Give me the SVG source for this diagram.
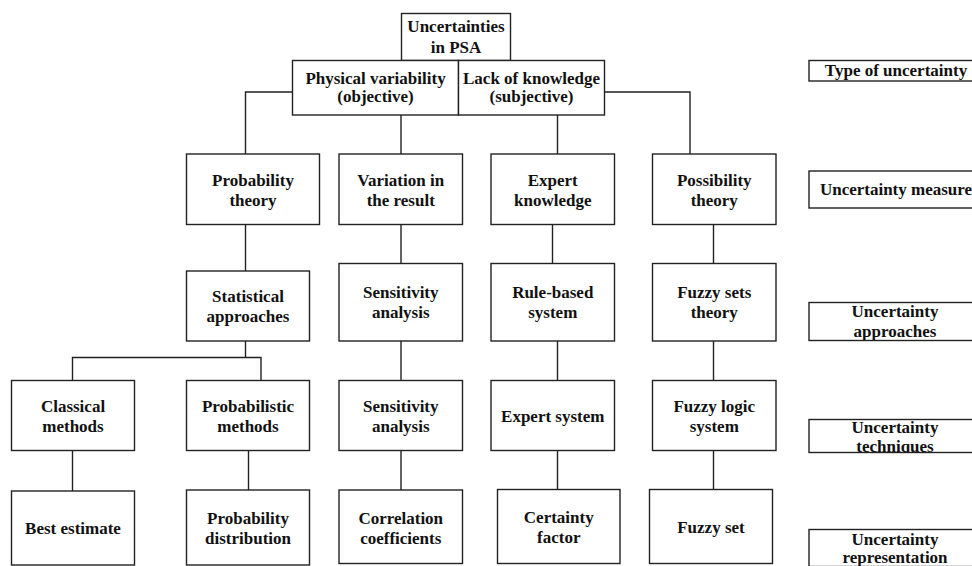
<svg xmlns="http://www.w3.org/2000/svg" width="972" height="566" viewBox="0 0 972 566">
  <style>
    .box { fill: #ffffff; stroke: #222222; stroke-width: 1.4; }
    .lbl { fill: none; stroke: #222222; stroke-width: 1.4; }
    .wire { fill: none; stroke: #222222; stroke-width: 1.4; }
    .t { font-weight: bold; font-size: 17px; fill: #111111; text-anchor: middle; }
  </style>
  <defs>
    <clipPath id="clip-measure"><rect x="809" y="171" width="174" height="37"/></clipPath>
    <clipPath id="clip-type"><rect x="809" y="60.5" width="174" height="20.5"/></clipPath>
    <clipPath id="clip-approaches"><rect x="809" y="302.5" width="174" height="38"/></clipPath>
    <clipPath id="clip-techniques"><rect x="809" y="419.5" width="174" height="33"/></clipPath>
    <clipPath id="clip-representation"><rect x="809" y="529.5" width="174" height="36.5"/></clipPath>
  </defs>
  <rect x="0" y="0" width="972" height="566" fill="#ffffff"/>

  <!-- connectors -->
  <g id="connectors">
    <path class="wire" d="M292.5 92 H245.5 V154"/>
    <path class="wire" d="M401 115 V154"/>
    <path class="wire" d="M557.5 115 V154"/>
    <path class="wire" d="M604.5 92 H690 V154"/>
    <path class="wire" d="M245.5 224.5 V271"/>
    <path class="wire" d="M401 224.5 V263.5"/>
    <path class="wire" d="M552.5 224.5 V263.5"/>
    <path class="wire" d="M713.5 224.5 V263.5"/>
    <path class="wire" d="M245.5 341 V357.5"/>
    <path class="wire" d="M72.5 380.5 V357.5 H261 V380.5"/>
    <path class="wire" d="M401 341 V380.5"/>
    <path class="wire" d="M557.5 341 V380.5"/>
    <path class="wire" d="M713.5 341 V380.5"/>
    <path class="wire" d="M72.5 450.5 V491"/>
    <path class="wire" d="M248.5 450.5 V490"/>
    <path class="wire" d="M401 450.5 V490"/>
    <path class="wire" d="M557.5 450.5 V489.5"/>
    <path class="wire" d="M713.5 450.5 V489.5"/>
  </g>

  <g font-family="'Liberation Serif', 'Times New Roman', Tinos, 'DejaVu Serif', serif">
  <!-- root and uncertainty types -->
  <g id="root">
    <rect class="box" x="401.5" y="13.5" width="109" height="47"/>
    <text class="t" x="456" y="31.7">Uncertainties</text>
    <text class="t" x="456" y="52.7">in PSA</text>
  </g>
  <g id="physical">
    <rect class="box" x="292.5" y="60.5" width="166" height="54.5"/>
    <text class="t" x="375.5" y="83.5">Physical variability</text>
    <text class="t" x="375.5" y="101.5">(objective)</text>
  </g>
  <g id="lack">
    <rect class="box" x="458.5" y="60.5" width="146" height="54.5"/>
    <text class="t" x="531.5" y="83.5">Lack of knowledge</text>
    <text class="t" x="531.5" y="101.5">(subjective)</text>
  </g>

  <!-- uncertainty measures -->
  <g id="probability-theory">
    <rect class="box" x="186.5" y="154" width="133" height="70.5"/>
    <text class="t" x="253" y="185.5">Probability</text>
    <text class="t" x="253" y="205.5">theory</text>
  </g>
  <g id="variation">
    <rect class="box" x="339" y="154" width="123.5" height="70.5"/>
    <text class="t" x="400.75" y="185.5">Variation in</text>
    <text class="t" x="400.75" y="205.5">the result</text>
  </g>
  <g id="expert-knowledge">
    <rect class="box" x="491" y="154" width="123.5" height="70.5"/>
    <text class="t" x="552.75" y="185.5">Expert</text>
    <text class="t" x="552.75" y="205.5">knowledge</text>
  </g>
  <g id="possibility-theory">
    <rect class="box" x="652.5" y="154" width="123.5" height="70.5"/>
    <text class="t" x="714.25" y="185.5">Possibility</text>
    <text class="t" x="714.25" y="205.5">theory</text>
  </g>

  <!-- uncertainty approaches -->
  <g id="statistical">
    <rect class="box" x="186.5" y="271" width="123" height="70"/>
    <text class="t" x="248" y="302">Statistical</text>
    <text class="t" x="248" y="322">approaches</text>
  </g>
  <g id="sensitivity-1">
    <rect class="box" x="339" y="263.5" width="123.5" height="77.5"/>
    <text class="t" x="400.75" y="298.3">Sensitivity</text>
    <text class="t" x="400.75" y="318.3">analysis</text>
  </g>
  <g id="rule-based">
    <rect class="box" x="491" y="263.5" width="123.5" height="77.5"/>
    <text class="t" x="552.75" y="298.3">Rule-based</text>
    <text class="t" x="552.75" y="318.3">system</text>
  </g>
  <g id="fuzzy-sets-theory">
    <rect class="box" x="652.5" y="263.5" width="123.5" height="77.5"/>
    <text class="t" x="714.25" y="298.3">Fuzzy sets</text>
    <text class="t" x="714.25" y="318.3">theory</text>
  </g>

  <!-- uncertainty techniques -->
  <g id="classical">
    <rect class="box" x="11.5" y="380.5" width="123" height="70"/>
    <text class="t" x="73" y="411.7">Classical</text>
    <text class="t" x="73" y="431.7">methods</text>
  </g>
  <g id="probabilistic">
    <rect class="box" x="186.5" y="380.5" width="123" height="70"/>
    <text class="t" x="248" y="411.7">Probabilistic</text>
    <text class="t" x="248" y="431.7">methods</text>
  </g>
  <g id="sensitivity-2">
    <rect class="box" x="339" y="380.5" width="123.5" height="70"/>
    <text class="t" x="400.75" y="411.7">Sensitivity</text>
    <text class="t" x="400.75" y="431.7">analysis</text>
  </g>
  <g id="expert-system">
    <rect class="box" x="491" y="380.5" width="123.5" height="70"/>
    <text class="t" x="552.75" y="421.5">Expert system</text>
  </g>
  <g id="fuzzy-logic">
    <rect class="box" x="652.5" y="380.5" width="123.5" height="70"/>
    <text class="t" x="714.25" y="411.7">Fuzzy logic</text>
    <text class="t" x="714.25" y="431.7">system</text>
  </g>

  <!-- uncertainty representation -->
  <g id="best-estimate">
    <rect class="box" x="11.5" y="491" width="123" height="74"/>
    <text class="t" x="73" y="533.5">Best estimate</text>
  </g>
  <g id="probability-distribution">
    <rect class="box" x="186.5" y="490" width="123" height="75"/>
    <text class="t" x="248" y="524">Probability</text>
    <text class="t" x="248" y="544">distribution</text>
  </g>
  <g id="correlation">
    <rect class="box" x="339" y="490" width="123.5" height="73.5"/>
    <text class="t" x="400.75" y="523.5">Correlation</text>
    <text class="t" x="400.75" y="543.5">coefficients</text>
  </g>
  <g id="certainty-factor">
    <rect class="box" x="497.5" y="489.5" width="122.5" height="74"/>
    <text class="t" x="558.75" y="523">Certainty</text>
    <text class="t" x="558.75" y="543">factor</text>
  </g>
  <g id="fuzzy-set">
    <rect class="box" x="649.5" y="489.5" width="123" height="74"/>
    <text class="t" x="711" y="532.5">Fuzzy set</text>
  </g>

  <!-- level labels -->
  <g id="label-type">
    <text class="t" x="896" y="76" clip-path="url(#clip-type)">Type of uncertainty</text>
    <rect class="lbl" x="809" y="60.5" width="174" height="20.5"/>
  </g>
  <g id="label-measure">
    <text class="t" x="896" y="194.5" clip-path="url(#clip-measure)">Uncertainty measure</text>
    <rect class="lbl" x="809" y="171" width="174" height="37"/>
  </g>
  <g id="label-approaches">
    <text class="t" x="895" y="316.7" clip-path="url(#clip-approaches)">Uncertainty</text>
    <text class="t" x="895" y="336.7" clip-path="url(#clip-approaches)">approaches</text>
    <rect class="lbl" x="809" y="302.5" width="174" height="38"/>
  </g>
  <g id="label-techniques">
    <text class="t" x="895" y="432.7" clip-path="url(#clip-techniques)">Uncertainty</text>
    <text class="t" x="895" y="451.7" clip-path="url(#clip-techniques)">techniques</text>
    <rect class="lbl" x="809" y="419.5" width="174" height="33"/>
  </g>
  <g id="label-representation">
    <text class="t" x="895" y="545" clip-path="url(#clip-representation)">Uncertainty</text>
    <text class="t" x="895" y="563" clip-path="url(#clip-representation)">representation</text>
    <rect class="lbl" x="809" y="529.5" width="174" height="37"/>
  </g>
  </g>
</svg>
